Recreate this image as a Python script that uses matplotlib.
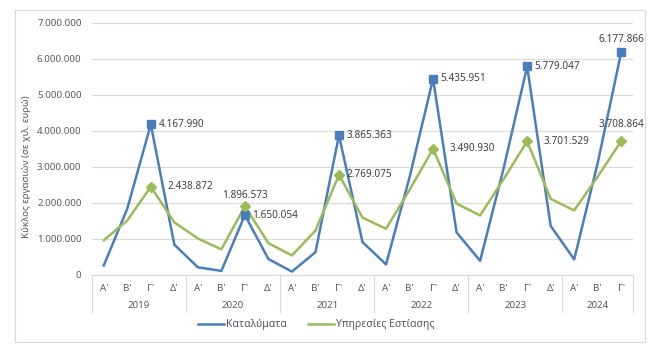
import matplotlib.pyplot as plt
from matplotlib.patches import Rectangle
from matplotlib.transforms import blended_transform_factory

plt.rcParams['font.family'] = ['Noto Sans', 'DejaVu Sans']

# ---------------- DATA ----------------
years = ["2019", "2020", "2021", "2022", "2023", "2024"]
quarters = ["Α'", "Β'", "Γ'", "Δ'"]

# quarterly values, 2019 Q1 .. 2024 Q3
katalymata = [250000, 1830000, 4167990, 830000,
              200000, 100000, 1650054, 430000,
              80000, 620000, 3865363, 900000,
              280000, 2700000, 5435951, 1170000,
              380000, 2950000, 5779047, 1350000,
              420000, 3100000, 6177866]
estiasi = [950000, 1500000, 2438872, 1450000,
           1000000, 700000, 1896573, 870000,
           530000, 1220000, 2769075, 1580000,
           1270000, 2350000, 3490930, 1970000,
           1640000, 2650000, 3701529, 2100000,
           1780000, 2720000, 3708864]

blue = "#4A7EBB"
green = "#9BBB59"
grey_txt = "#595959"
grid_col = "#D9D9D9"

n = len(katalymata)
x = list(range(n))
tick_labels = [quarters[i % 4] for i in range(n)]
peaks = [i for i in range(n) if i % 4 == 2]


def fmt(v):
    return f"{v:,}".replace(",", ".")


# ---------------- FIGURE ----------------
W, H = 668, 358
fig = plt.figure(figsize=(W / 100, H / 100), dpi=100)
fig.patches.append(Rectangle((15 / W, 1 - 342 / H), 630 / W, 332 / H,
                             transform=fig.transFigure, fill=False,
                             edgecolor=grid_col, lw=0.8))

ax = fig.add_axes([92 / W, 1 - 274.5 / H, 541 / W, 252 / H])

ax.plot(x, katalymata, color=blue, lw=1.8, label="Καταλύματα", zorder=3)
ax.plot(x, estiasi, color=green, lw=1.8, label="Υπηρεσίες Εστίασης", zorder=3)
ax.plot(peaks, [katalymata[i] for i in peaks], ls="none", marker="s",
        ms=5.5, color=blue, zorder=4)
ax.plot(peaks, [estiasi[i] for i in peaks], ls="none", marker="D",
        ms=5, color=green, zorder=4)

# data labels
lab_kw = dict(textcoords="offset points", fontsize=7.2, color="#404040", va="center")
for k, i in enumerate(peaks):
    if k == len(peaks) - 1:
        ax.annotate(fmt(katalymata[i]), (i, katalymata[i]), xytext=(0, 9),
                    ha="center", **lab_kw)
    else:
        ax.annotate(fmt(katalymata[i]), (i, katalymata[i]), xytext=(5.5, 0),
                    ha="left", **lab_kw)
green_off = [(12, 0), (0, 8), (5.5, 0), (12, 0), (12, 0), (0, 12)]
for k, i in enumerate(peaks):
    dx, dy = green_off[k]
    ax.annotate(fmt(estiasi[i]), (i, estiasi[i]), xytext=(dx, dy),
                ha="left" if dx else "center", **lab_kw)

ax.set_xlim(-0.5, n - 0.5)
ax.set_ylim(0, 7000000)
ax.set_yticks(range(0, 7000001, 1000000))
ax.set_yticklabels([fmt(v) for v in range(0, 7000001, 1000000)])
ax.set_xticks(x)
ax.set_xticklabels(tick_labels)
ax.tick_params(axis="both", length=0, labelsize=7, colors=grey_txt)
ax.tick_params(axis="y", pad=7.5, labelsize=7)
ax.tick_params(axis="x", pad=7)
ax.grid(axis="y", color=grid_col, lw=0.8)
ax.set_axisbelow(True)
for s in ["top", "right", "left"]:
    ax.spines[s].set_visible(False)
ax.spines["bottom"].set_color(grid_col)

# year groups under the quarters
tr = blended_transform_factory(ax.transData, ax.transAxes)
for j, yr in enumerate(years):
    start = 4 * j - 0.5
    end = min(4 * j + 3.5, n - 0.5)
    ax.text((start + end) / 2, -0.125, yr, transform=tr, ha="center",
            va="center", fontsize=7, color=grey_txt)
for b in [-0.5, 3.5, 7.5, 11.5, 15.5, 19.5, n - 0.5]:
    ax.plot([b, b], [0, -0.15], transform=tr, color=grid_col, lw=0.8,
            clip_on=False)

fig.text(27 / W, 1 - 167 / H, "Κύκλος εργασιών (σε χιλ. ευρώ)", rotation=90,
         ha="center", va="center", fontsize=7, color=grey_txt)

fig.legend(loc="center", bbox_to_anchor=(316 / W, 1 - 325 / H), ncol=2,
           frameon=False, fontsize=7.5, handlelength=2.5, handletextpad=0.2,
           columnspacing=2, labelcolor=grey_txt)

fig.savefig("out.png", dpi=100)
